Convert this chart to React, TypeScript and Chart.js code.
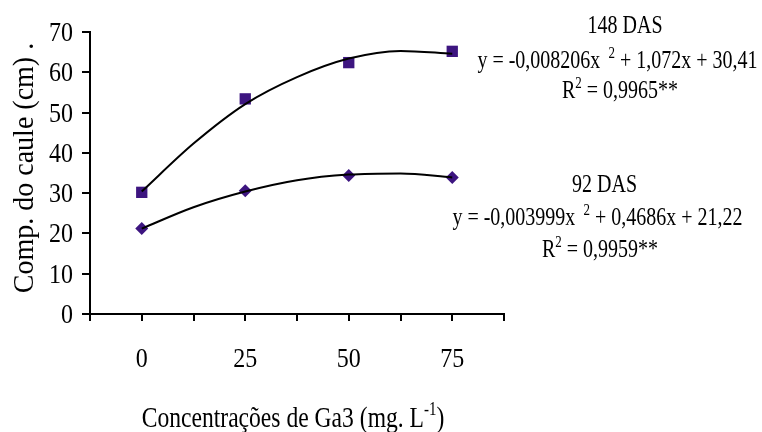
import React, { useEffect, useRef } from "react";
import { Chart, registerables } from "chart.js";

Chart.register(...registerables);

const xValues = [0, 25, 50, 75];
const xTickLabels = ["0", "25", "50", "75"];
const yTickValues = [0, 10, 20, 30, 40, 50, 60, 70];
const das148 = [30.2, 53.4, 62.4, 65.2];
const das92 = [21.2, 30.6, 34.4, 33.9];
const trendX = [0, 12.5, 25, 37.5, 50, 62.5, 75];
const trend148 = [30.4, 42.3, 52.1, 58.8, 63.4, 65.3, 64.6];
const trend92 = [21.2, 26.5, 30.4, 33.2, 34.6, 34.9, 33.9];

const FONT = '"Liberation Serif", "Times New Roman", serif';
const MARKER = "#3d1580";

type Piece = { t: string; sup?: boolean };

function drawPieces(
  ctx: CanvasRenderingContext2D,
  pieces: Piece[],
  cx: number,
  baseY: number,
  size: number,
  sy: number,
  align: "center" | "right" = "center"
) {
  const supSize = Math.round(size * 0.65);
  let total = 0;
  const widths = pieces.map((p) => {
    ctx.font = `${p.sup ? supSize : size}px ${FONT}`;
    const w = ctx.measureText(p.t).width;
    total += w;
    return w;
  });
  ctx.save();
  ctx.translate(cx, baseY);
  ctx.scale(1, sy);
  let x = align === "center" ? -total / 2 : -total;
  ctx.textAlign = "left";
  ctx.textBaseline = "alphabetic";
  pieces.forEach((p, i) => {
    ctx.font = `${p.sup ? supSize : size}px ${FONT}`;
    ctx.fillText(p.t, x, p.sup ? -size * 0.4 : 0);
    x += widths[i];
  });
  ctx.restore();
}

const textPlugin = {
  id: "texts",
  afterDraw(chart: any) {
    const ctx = chart.ctx as CanvasRenderingContext2D;
    const xs = chart.scales.x;
    const ys = chart.scales.y;
    ctx.save();
    ctx.fillStyle = "#000";
    // tick labels
    xValues.forEach((v, i) => {
      drawPieces(ctx, [{ t: xTickLabels[i] }], xs.getPixelForValue(v), 367, 24, 1.16);
    });
    yTickValues.forEach((v) => {
      drawPieces(ctx, [{ t: String(v) }], 73, ys.getPixelForValue(v) + 9, 24, 1.1, "right");
    });
    // x title
    drawPieces(ctx, [{ t: "Concentrações de Ga3 (mg. L" }, { t: "-1", sup: true }, { t: ")" }], 293, 427, 23.6, 1.26);
    // y title
    ctx.save();
    ctx.translate(33, 168);
    ctx.rotate(-Math.PI / 2);
    drawPieces(ctx, [{ t: "Comp. do caule (cm) ." }], 0, 0, 28, 1.07);
    ctx.restore();
    // annotations
    drawPieces(ctx, [{ t: "148 DAS" }], 625, 32.7, 20, 1.27);
    drawPieces(ctx, [{ t: "y = -0,008206x " }, { t: " 2", sup: true }, { t: " + 1,072x + 30,41" }], 617.5, 68.3, 20, 1.27);
    drawPieces(ctx, [{ t: "R" }, { t: "2", sup: true }, { t: " = 0,9965**" }], 620, 98.3, 20, 1.27);
    drawPieces(ctx, [{ t: "92 DAS" }], 604.5, 191.7, 20, 1.27);
    drawPieces(ctx, [{ t: "y = -0,003999x " }, { t: " 2", sup: true }, { t: " + 0,4686x + 21,22" }], 597.5, 225, 20, 1.27);
    drawPieces(ctx, [{ t: "R" }, { t: "2", sup: true }, { t: " = 0,9959**" }], 600, 257, 20, 1.27);
    ctx.restore();
  },
};

export default function App() {
  const ref = useRef<HTMLCanvasElement>(null);
  useEffect(() => {
    if (!ref.current) return;
    const chart = new Chart(ref.current, {
      type: "scatter",
      data: {
        datasets: [
          {
            label: "148 DAS trend",
            data: trendX.map((x, i) => ({ x, y: trend148[i] })),
            showLine: true,
            borderColor: "#000",
            borderWidth: 2,
            pointRadius: 0,
            cubicInterpolationMode: "monotone",
            order: 0,
          },
          {
            label: "92 DAS trend",
            data: trendX.map((x, i) => ({ x, y: trend92[i] })),
            showLine: true,
            borderColor: "#000",
            borderWidth: 2,
            pointRadius: 0,
            cubicInterpolationMode: "monotone",
            order: 0,
          },
          {
            label: "148 DAS",
            data: xValues.map((x, i) => ({ x, y: das148[i] })),
            pointStyle: "rect",
            pointRadius: 8,
            backgroundColor: MARKER,
            borderColor: MARKER,
            borderWidth: 0,
            order: 1,
          },
          {
            label: "92 DAS",
            data: xValues.map((x, i) => ({ x, y: das92[i] })),
            pointStyle: "rectRot",
            pointRadius: 6.5,
            backgroundColor: MARKER,
            borderColor: MARKER,
            borderWidth: 0,
            order: 1,
          },
        ],
      },
      options: {
        responsive: false,
        animation: false,
        layout: { padding: { top: 32, right: 258, left: 0, bottom: 0 } },
        plugins: { legend: { display: false }, tooltip: { enabled: false } },
        scales: {
          x: {
            type: "linear",
            min: -12.5,
            max: 87.5,
            afterBuildTicks: (scale: any) => {
              const t: any[] = [];
              for (let v = -12.5; v <= 87.5 + 1e-9; v += 12.5) t.push({ value: v });
              scale.ticks = t;
            },
            afterFit: (scale: any) => {
              scale.height = 118;
            },
            ticks: { display: false, autoSkip: false },
            grid: { drawOnChartArea: false, drawTicks: true, tickLength: 7, color: "#000", lineWidth: 2 },
            border: { display: true, color: "#000", width: 2 },
          },
          y: {
            min: 0,
            max: 70,
            afterBuildTicks: (scale: any) => {
              scale.ticks = yTickValues.map((v) => ({ value: v }));
            },
            afterFit: (scale: any) => {
              scale.width = 90;
            },
            ticks: { display: false },
            grid: { drawOnChartArea: false, drawTicks: true, tickLength: 8, color: "#000", lineWidth: 2 },
            border: { display: true, color: "#000", width: 2 },
          },
        },
      },
      plugins: [textPlugin],
    } as any);
    return () => chart.destroy();
  }, []);
  return (
    <div style={{ position: "absolute", left: 0, top: 0, width: 762, height: 432, background: "#fff" }}>
      <canvas ref={ref} width={762} height={432} style={{ display: "block" }} />
    </div>
  );
}
